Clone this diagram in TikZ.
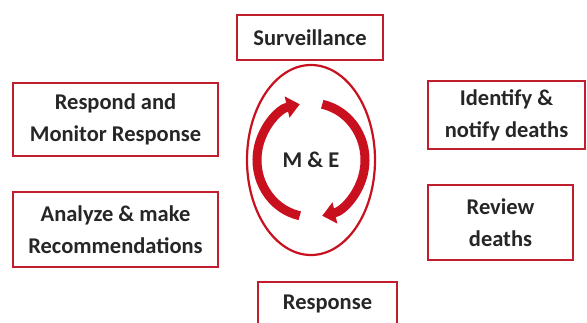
\documentclass[tikz,border=0pt]{standalone}
\usepackage{fontspec}
\setmainfont{Carlito}
\usetikzlibrary{arrows.meta,shapes.geometric}
\definecolor{boxred}{RGB}{192,30,45}
\definecolor{cycred}{RGB}{200,16,30}
\begin{document}
\begin{tikzpicture}[x=1pt, y=1pt, thick,
    main/.style = {draw=boxred, line width=2pt, align=center, inner sep=0pt,
      font=\fontsize{22.5}{32}\selectfont\bfseries, text=black!85},
    cyc/.style = {draw=cycred, line width=9pt, -{Triangle[length=13pt,width=21pt]}}]
  \useasboundingbox (0,0) rectangle (587,-322);
  \node[main, minimum width=146pt, minimum height=45pt] (1) at (310,-37.5)  {Surveillance};
  \node[main, minimum width=157pt, minimum height=68pt] (2) at (506.5,-115) {Identify \&\\notify deaths};
  \node[main, minimum width=145pt, minimum height=75pt] (3) at (500.5,-222.5) {Review\\deaths};
  \node[main, minimum width=139pt, minimum height=44pt] (4) at (327.5,-304) {Response};
  \node[main, minimum width=205pt, minimum height=75pt] (5) at (115.5,-229.5) {Analyze \& make\\Recommendations};
  \node[main, minimum width=205pt, minimum height=73pt] (6) at (115.5,-119.5) {Respond and\\Monitor Response};

  \node[main, ellipse, draw=cycred, line width=2.2pt, minimum width=128pt, minimum height=190pt] (0) at (311,-160) {M \& E};

  \draw[cyc] ([shift={(258:54pt and 57pt)}]0.center) arc[start angle=258, end angle=102, x radius=54pt, y radius=57pt];
  \draw[cyc] ([shift={(78:54pt and 57pt)}]0.center) arc[start angle=78, end angle=-78, x radius=54pt, y radius=57pt];
\end{tikzpicture}
\end{document}
